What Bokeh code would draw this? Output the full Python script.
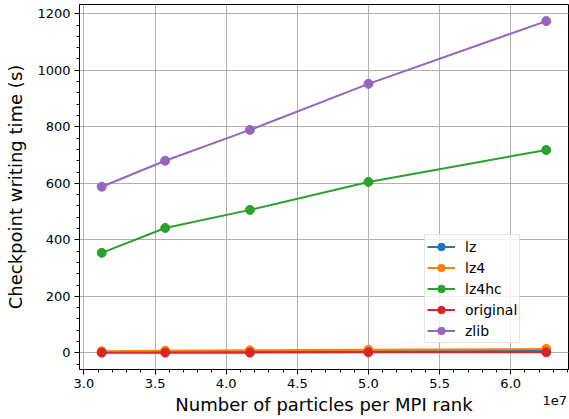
from bokeh.plotting import figure
from bokeh.models import (SingleIntervalTicker, FixedTicker, CustomJSTickFormatter, LinearAxis, Range1d)
from bokeh.embed import file_html
from bokeh.resources import INLINE

particles = [31250000, 35714286, 41666667, 50000000, 62500000]
series_names = ["lz", "lz4", "lz4hc", "original", "zlib"]
lz = [3, 4, 5, 6, 7]
lz4 = [6, 8, 9, 11, 14]
lz4hc = [354, 442, 506, 605, 718]
original = [1, 1, 1, 2, 2]
zlib = [588, 680, 789, 952, 1174]
colors = ["#1f77b4", "#ff7f0e", "#2ca02c", "#d62728", "#9467bd"]
values = [lz, lz4, lz4hc, original, zlib]
offset_text = "1e7"

FONT = "DejaVu Sans"

p = figure(width=569, height=419, output_backend="svg", toolbar_location=None,
           x_range=Range1d(29687500, 64062500), y_range=Range1d(-58.7, 1232.7),
           x_axis_location=None,
           min_border_left=79, min_border_right=1, min_border_top=4, min_border_bottom=50)

p.outline_line_color = "black"
p.outline_line_width = 1
p.background_fill_color = "white"
p.border_fill_color = "white"

for name, vals, c in zip(series_names, values, colors):
    p.line(particles, vals, line_color=c, line_width=2, legend_label=name)
    p.scatter(particles, vals, size=9, fill_color=c, line_color=c, legend_label=name)

xa = LinearAxis(ticker=SingleIntervalTicker(interval=5000000, num_minor_ticks=5),
                formatter=CustomJSTickFormatter(code="return (tick/1e7).toFixed(1);"))
p.add_layout(xa, "below")
p.yaxis.ticker = SingleIntervalTicker(interval=200, num_minor_ticks=5)

for ax in (xa, p.yaxis[0]):
    ax.axis_line_color = "black"
    ax.major_tick_line_color = "black"
    ax.minor_tick_line_color = "black"
    ax.major_tick_in = 0
    ax.major_tick_out = 5
    ax.minor_tick_in = 0
    ax.minor_tick_out = 3
    ax.major_label_text_font = FONT
    ax.major_label_text_font_size = "13px"
    ax.major_label_text_color = "black"
    ax.axis_label_text_font = FONT
    ax.axis_label_text_font_size = "18px"
    ax.axis_label_text_font_style = "normal"
    ax.axis_label_text_color = "black"
    ax.major_label_standoff = 4

p.yaxis.axis_label = "Checkpoint writing time (s)"
p.yaxis.axis_label_standoff = 8

# second axis row: carries the offset text and the x-axis title
xb = LinearAxis(ticker=FixedTicker(ticks=[63100000], minor_ticks=[]),
                formatter=CustomJSTickFormatter(code="return '%s';" % offset_text))
xb.axis_line_color = None
xb.major_tick_line_color = None
xb.minor_tick_line_color = None
xb.major_tick_in = 0
xb.major_tick_out = 0
xb.major_label_standoff = 5
xb.major_label_text_font = FONT
xb.major_label_text_font_size = "13px"
xb.major_label_text_color = "black"
xb.axis_label = "Number of particles per MPI rank"
xb.axis_label_text_font = FONT
xb.axis_label_text_font_size = "18px"
xb.axis_label_text_font_style = "normal"
xb.axis_label_text_color = "black"
xb.axis_label_standoff = -14
p.add_layout(xb, "below")

p.xgrid.grid_line_color = "#b0b0b0"
p.ygrid.grid_line_color = "#b0b0b0"
p.xgrid.ticker = xa.ticker
p.xgrid.grid_line_width = 1
p.ygrid.grid_line_width = 1

leg = p.legend[0]
leg.location = (345, 26)
leg.label_text_font = FONT
leg.label_text_font_size = "14px"
leg.label_text_color = "black"
leg.glyph_width = 28
leg.glyph_height = 19
leg.label_height = 19
leg.spacing = 2
leg.padding = 2
leg.margin = 0
leg.label_standoff = 10
leg.border_line_color = "#cccccc"
leg.border_line_width = 1
leg.background_fill_alpha = 0.8

open("out.html", "w").write(file_html(p, INLINE))
